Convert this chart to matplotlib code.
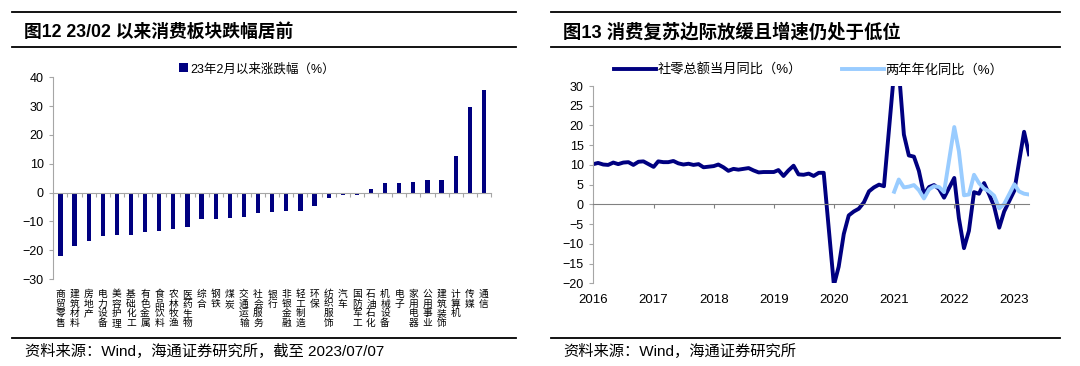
import numpy as np
import pandas as pd
import matplotlib
matplotlib.use('Agg')
import matplotlib.pyplot as plt
import matplotlib.transforms as mtrans
from matplotlib.lines import Line2D

plt.rcParams['font.family'] = ['Liberation Sans', 'Noto Sans CJK SC', 'DejaVu Sans']

NAVY = '#000080'
LIGHT = '#99CCFF'
GREY = '#A6A6A6'

# ---- left chart data: change since 2023/02 by sector (%)
sectors = ['商贸零售', '建筑材料', '房地产', '电力设备', '美容护理', '基础化工',
           '有色金属', '食品饮料', '农林牧渔', '医药生物', '综合', '钢铁', '煤炭',
           '交通运输', '社会服务', '银行', '非银金融', '轻工制造', '环保', '纺织服饰',
           '汽车', '国防军工', '石油石化', '机械设备', '电子', '家用电器', '公用事业',
           '建筑装饰', '计算机', '传媒', '通信']
chg_since_feb = [-22.0, -18.7, -16.9, -15.0, -14.8, -14.8, -13.6, -13.2, -12.8, -12.1,
                 -9.2, -9.2, -8.9, -8.4, -7.0, -6.7, -6.5, -6.4, -4.6, -2.0,
                 -1.0, -0.9, 1.4, 3.2, 3.4, 3.7, 4.3, 4.5, 12.6, 29.8, 35.7]

# ---- right chart data: retail sales yoy (Jan merged into Feb)
months = pd.date_range('2016-02-01', '2023-05-01', freq='MS')
months = months[months.month != 1]
retail_yoy = [10.2, 10.5, 10.1, 10.0, 10.6, 10.2, 10.6, 10.7, 10.0, 10.8, 10.9,
              9.5, 10.9, 10.7, 10.7, 11.0, 10.4, 10.1, 10.3, 10.0, 10.2, 9.4,
              9.7, 10.1, 9.4, 8.5, 9.0, 8.8, 9.0, 9.2, 8.6, 8.1, 8.2,
              8.2, 8.7, 7.2, 8.6, 9.8, 7.6, 7.5, 7.8, 7.2, 8.0, 8.0,
              -20.5, -15.8, -7.5, -2.8, -1.8, -1.1, 0.5, 3.3, 4.3, 5.0, 4.6,
              33.8, 34.2, 17.7, 12.4, 12.1, 8.5, 2.5, 4.4, 4.9, 3.9, 1.7,
              6.7, -3.5, -11.1, -6.7, 3.1, 2.7, 5.4, 2.5, -0.5, -5.9, -1.8,
              3.5, 10.6, 18.4, 12.7]
two_year_months = months[months >= '2021-02-01']
two_year = [3.2, 6.3, 4.3, 4.5, 4.9, 3.6, 1.5, 3.8, 4.6, 4.4, 3.1,
            19.6, 13.5, 2.3, 2.5, 7.5, 5.4, 4.0, 3.3, 2.2, -1.0, 0.1,
            5.1, 3.3, 2.7, 2.5]
years = list(range(2016, 2024))

fig = plt.figure(figsize=(10.8, 3.66), dpi=100)


def hline(y, x0, x1, lw=1.3):
    fig.add_artist(Line2D([x0, x1], [y, y], transform=fig.transFigure, color='black', lw=lw))


# frame lines and titles
for x0, x1 in [(0.0111, 0.4778), (0.5102, 0.9815)]:
    hline(0.9672, x0, x1)
    hline(0.8708, x0, x1)
    hline(0.0757, x0, x1)

fig.text(0.0222, 0.9134, '图12 23/02 以来消费板块跌幅居前', fontsize=12.8, fontweight='bold', va='center')
fig.text(0.5213, 0.9134, '图13 消费复苏边际放缓且增速仍处于低位', fontsize=13.2, fontweight='bold', va='center')
fig.text(0.0231, 0.040, '资料来源：Wind，海通证券研究所，截至 2023/07/07', fontsize=11, va='center')
fig.text(0.5213, 0.040, '资料来源：Wind，海通证券研究所', fontsize=11, va='center')

# ---- left: bars
ax1 = fig.add_axes([0.0494, 0.2377, 0.4052, 0.5511])
x = np.arange(len(sectors))
ax1.bar(x, chg_since_feb, width=0.3, color=NAVY, label='23年2月以来涨跌幅（%）')
ax1.set_xlim(-0.5, len(sectors) - 0.5)
ax1.set_ylim(-30, 40)
ax1.set_yticks(range(-30, 41, 10))
for s in ['top', 'right']:
    ax1.spines[s].set_visible(False)
ax1.spines['left'].set_color(GREY)
ax1.spines['bottom'].set_color(GREY)
ax1.spines['bottom'].set_position(('data', 0))
ax1.set_xticks(np.arange(-0.5, len(sectors), 1))
ax1.tick_params(axis='x', direction='out', length=3, color=GREY, labelbottom=False)
ax1.tick_params(axis='y', direction='out', length=3, color=GREY, labelsize=9, pad=4)
trans1 = mtrans.blended_transform_factory(ax1.transData, ax1.transAxes)
for i, name in enumerate(sectors):
    ax1.text(i, -0.05, '\n'.join(name), transform=trans1, ha='center', va='top',
             fontsize=7, linespacing=0.95)
ax1.legend(loc='center', bbox_to_anchor=(0.238, 0.8115), bbox_transform=fig.transFigure,
           frameon=False, fontsize=9, handlelength=0.7, handleheight=0.7, handletextpad=0.2)

# ---- right: lines
ax2 = fig.add_axes([0.5494, 0.226, 0.4034, 0.539])
ax2.plot(months, retail_yoy, color=NAVY, lw=2.8, solid_joinstyle='round', label='社零总额当月同比（%）')
ax2.plot(two_year_months, two_year, color=LIGHT, lw=2.8, solid_joinstyle='round', label='两年年化同比（%）')
ax2.set_xlim(months[0], months[-1])
ax2.set_ylim(-20, 30)
ax2.set_yticks(range(-20, 31, 5))
for s in ['top', 'right']:
    ax2.spines[s].set_visible(False)
ax2.spines['left'].set_color(GREY)
ax2.spines['bottom'].set_color('#808080')
ax2.spines['bottom'].set_position(('data', 0))
year_ticks = pd.to_datetime([f'{y}-02-01' for y in years])
ax2.set_xticks(year_ticks)
ax2.tick_params(axis='x', direction='out', length=3, color='#808080', labelbottom=False)
ax2.tick_params(axis='y', direction='out', length=3, color=GREY, labelsize=9, pad=4)
trans2 = mtrans.blended_transform_factory(ax2.transData, ax2.transAxes)
for t, y in zip(year_ticks, years):
    ax2.text(t, -0.085, str(y), transform=trans2, ha='center', va='center', fontsize=9.5)
ax2.legend(loc='center', bbox_to_anchor=(0.7486, 0.8087), bbox_transform=fig.transFigure,
           ncol=2, frameon=False, fontsize=9.5, handlelength=3.2, handletextpad=0.1,
           columnspacing=3.0)

fig.savefig('out.png', dpi=100)
